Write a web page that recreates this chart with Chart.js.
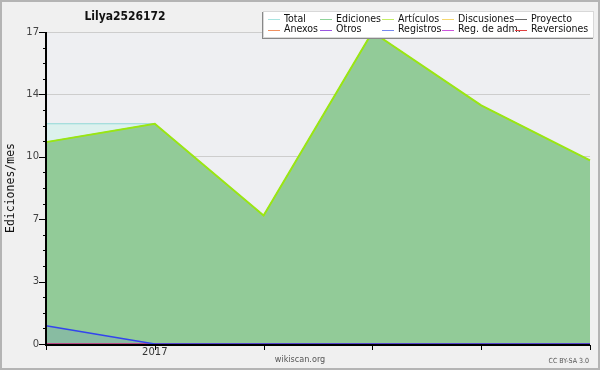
<!DOCTYPE html>
<html>
<head>
<meta charset="utf-8">
<script src="https://cdn.jsdelivr.net/npm/chart.js@4"></script>
<style>
  html, body { margin: 0; padding: 0; background: #f0f0f0; }
  canvas { display: block; }
</style>
</head>
<body>
<canvas id="lineChart" width="600" height="370"></canvas>
<script>
// monthly values
var months = ['2016-12', '2017-01', '2017-02', '2017-03', '2017-04', '2017-05'];
var xTickLabels = ['', '2017', '', '', '', ''];
var total = [12, 12, 7, 17, 13, 10];
var ediciones = [11, 12, 7, 17, 13, 10];
var articulos = [11, 12, 7, 17, 13, 10];
var discusiones = [0, 0, 0, 0, 0, 0];
var proyecto = [0, 0, 0, 0, 0, 0];
var anexos = [0, 0, 0, 0, 0, 0];
var otros = [0, 0, 0, 0, 0, 0];
var registros = [1, 0, 0, 0, 0, 0];
var regAdm = [0, 0, 0, 0, 0, 0];
var reversiones = [0, 0, 0, 0, 0, 0];
var yMax = 17;
var yMajorStep = 3.4;

var FONT = "'DejaVu Sans', sans-serif";
var CFONT = "'DejaVu Sans Condensed', 'DejaVu Sans', sans-serif";
var MONO = "'DejaVu Sans Mono', monospace";

function series(label, data, color, order, fill) {
    return {
        label: label,
        data: data,
        borderColor: color,
        backgroundColor: fill || 'transparent',
        fill: fill ? 'origin' : false,
        borderWidth: 1,
        pointRadius: 0,
        tension: 0,
        order: order
    };
}

var datasets = [
    series('Total', total, '#8fd9d6', 20, '#dcf1ee'),
    series('Ediciones', ediciones, '#7ccc84', 19, '#92cb98'),
    series('Artículos', articulos, '#9ae612', 18),
    series('Discusiones', discusiones, '#f2cf4a', 17),
    series('Proyecto', proyecto, '#555555', 16),
    series('Anexos', anexos, '#ee8844', 15),
    series('Otros', otros, '#8844dd', 14),
    series('Registros', registros, '#3344ee', 3, 'rgba(70,90,230,0.13)'),
    series('Reg. de adm.', regAdm, '#cc44dd', 12),
    series('Reversiones', reversiones, '#dd3333', 11)
];
datasets[2].borderWidth = 2;
datasets[7].borderWidth = 1.5;

var legendColors = ['#a8e4e0', '#8fd49a', '#c4ee66', '#f5d870', '#666666',
                    '#f09060', '#9a55e0', '#7788ee', '#cc55dd', '#e04040'];

var decorations = {
    id: 'decorations',
    beforeDraw: function (chart) {
        var c = chart.ctx, a = chart.chartArea;
        c.save();
        c.fillStyle = '#f0f0f0';
        c.fillRect(0, 0, chart.width, chart.height);
        c.strokeStyle = '#b4b4b4';
        c.lineWidth = 2;
        c.strokeRect(1, 1, chart.width - 2, chart.height - 2);
        c.fillStyle = '#eeeff2';
        c.fillRect(a.left, a.top, a.right - a.left, a.bottom - a.top);
        c.restore();
    },
    afterDatasetsDraw: function (chart) {
        var c = chart.ctx, a = chart.chartArea;
        var ys = chart.scales.y, xs = chart.scales.x;
        c.save();
        c.strokeStyle = '#000';
        c.lineWidth = 2;
        c.beginPath();
        c.moveTo(a.left, a.top);
        c.lineTo(a.left, a.bottom + 1);
        c.lineTo(a.right, a.bottom + 1);
        c.stroke();
        c.lineWidth = 1;
        // y ticks: major every 3.4, three minor in between
        for (var i = 0; i <= 20; i++) {
            var py = Math.round(ys.getPixelForValue(i * yMajorStep / 4)) + 0.5;
            var len = (i % 4 === 0) ? 7 : 3;
            c.beginPath();
            c.moveTo(a.left - len, py);
            c.lineTo(a.left, py);
            c.stroke();
        }
        for (var j = 0; j < months.length; j++) {
            var px = Math.round(xs.getPixelForValue(j)) + 0.5;
            c.beginPath();
            c.moveTo(px, a.bottom + 1);
            c.lineTo(px, a.bottom + 6);
            c.stroke();
        }
        c.restore();
    },
    afterDraw: function (chart) {
        var c = chart.ctx, a = chart.chartArea;
        c.save();
        // title
        c.fillStyle = '#111';
        c.font = 'bold 12px ' + CFONT;
        c.textAlign = 'center';
        c.textBaseline = 'middle';
        c.fillText('Lilya2526172', 125, 17);
        // axis title
        c.save();
        c.translate(11, (a.top + a.bottom) / 2);
        c.rotate(-Math.PI / 2);
        c.font = '11.5px ' + MONO;
        c.fillStyle = '#111';
        c.fillText('Ediciones/mes', 0, 0);
        c.restore();
        // footer
        c.font = '9px ' + CFONT;
        c.fillStyle = '#555';
        c.fillText('wikiscan.org', 300, 360);
        c.font = '7px ' + CFONT;
        c.textAlign = 'right';
        c.fillText('CC BY-SA 3.0', 589, 361);
        // legend box
        var bx = 263, by = 11, bw = 331, bh = 27;
        c.fillStyle = '#888';
        c.fillRect(bx - 1, by + 1, bw, bh);
        c.fillStyle = '#fff';
        c.fillRect(bx, by, bw, bh);
        c.strokeStyle = '#d8d8d8';
        c.lineWidth = 1;
        c.strokeRect(bx + 0.5, by + 0.5, bw - 1, bh - 1);
        var colX = [268, 320, 382, 442, 515];
        var rowY = [19, 29.5];
        c.font = '10.5px ' + CFONT;
        c.textAlign = 'left';
        c.textBaseline = 'middle';
        chart.data.datasets.forEach(function (ds, k) {
            var col = k % 5, row = Math.floor(k / 5);
            var lx = colX[col], ly = rowY[row];
            c.strokeStyle = legendColors[k];
            c.lineWidth = 1;
            c.beginPath();
            c.moveTo(lx, Math.round(ly) + 0.5);
            c.lineTo(lx + 12, Math.round(ly) + 0.5);
            c.stroke();
            c.fillStyle = '#111';
            c.fillText(ds.label, lx + 16, ly);
        });
        c.restore();
    }
};

var ctx = document.getElementById('lineChart');
var myLineChart = new Chart(ctx, {
    type: 'line',
    data: {
        labels: months,
        datasets: datasets
    },
    options: {
        responsive: false,
        animation: false,
        layout: { padding: { top: 32, right: 10, left: 0, bottom: 0 } },
        plugins: {
            legend: { display: false },
            title: { display: false },
            tooltip: { enabled: false }
        },
        scales: {
            x: {
                type: 'category',
                offset: false,
                afterFit: function (scale) { scale.height = 26; },
                grid: { display: false, drawTicks: false },
                border: { display: false },
                ticks: {
                    autoSkip: false,
                    maxRotation: 0,
                    padding: 2,
                    color: '#333',
                    font: { family: FONT, size: 10 },
                    callback: function (value, index) { return xTickLabels[index]; }
                }
            },
            y: {
                min: 0,
                max: yMax,
                afterFit: function (scale) { scale.width = 46; },
                grid: { color: '#cdcdcd', drawTicks: false },
                border: { display: false },
                ticks: {
                    stepSize: yMajorStep,
                    padding: 7,
                    color: '#444',
                    font: { family: FONT, size: 10 },
                    callback: function (value) { return Math.round(value); }
                }
            }
        }
    },
    plugins: [decorations]
});
</script>
</body>
</html>
